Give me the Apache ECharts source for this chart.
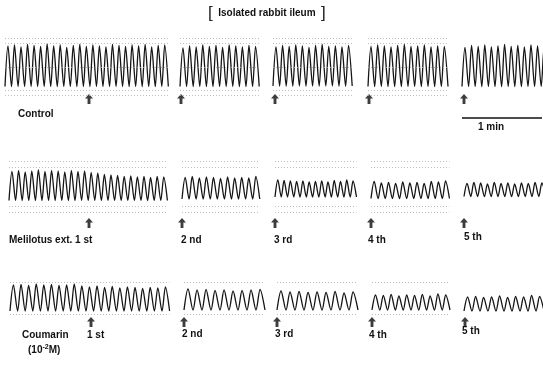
<!DOCTYPE html>
<html>
<head>
<meta charset="utf-8">
<script src="https://cdn.jsdelivr.net/npm/echarts@6/dist/echarts.min.js"></script>
<style>
  html, body { margin: 0; padding: 0; background: #fff; }
  #chart { width: 543px; height: 380px; }
</style>
</head>
<body>
<div id="chart"></div>
<script>
// Isolated rabbit ileum: spontaneous contractions, time in seconds, tension in arbitrary units.
const timeSpan = 407.25;          // seconds across the page
const scaleBarStart = 346.5;      // 1-min calibration bar
const scaleBarLength = 60;

// Control recordings (5 segments)
const controlStarts  = [3.75, 135, 204.75, 276, 346.5];
const controlPeriods = [4.9, 4.95, 4.95, 5.0, 4.95];
const controlBase    = [1.3, 1.3, 1.4, 1.3, 1.3];
const controlPeaks1 = [9.4, 9.6, 9.2, 9.7, 9.5, 9.3, 9.8, 9.4, 9.6, 9.1, 9.5, 9.7, 9.3, 9.6, 9.4, 9.2, 9.7, 9.5, 9.3, 9.6, 9.4, 9.7, 9.2, 9.5, 9.6];
const controlPeaks2 = [9.0, 9.4, 9.2, 9.6, 9.3, 9.5, 9.1, 9.6, 9.4, 9.2, 9.5, 9.3];
const controlPeaks3 = [9.2, 9.5, 9.3, 9.6, 9.4, 9.1, 9.5, 9.7, 9.3, 9.4, 9.2, 9.5];
const controlPeaks4 = [9.3, 9.6, 9.4, 9.2, 9.5, 9.7, 9.3, 9.4, 9.6, 9.2, 9.4, 9.3];
const controlPeaks5 = [9.1, 9.5, 9.3, 9.6, 9.2, 9.4, 9.7, 9.3, 9.5, 9.2, 9.6, 9.4, 9.3];
const controlArrows = [66.75, 135.75, 206.25, 276.75, 348];

// Melilotus extract, 1st to 5th application
const melilotusStarts  = [6.75, 136.5, 206.25, 278.25, 348];
const melilotusPeriods = [4.95, 5.3, 4.7, 5.35, 5.1];
const melilotusBase    = [3.5, 3.8, 4.2, 3.9, 4.3];
const melilotusPeaks1 = [9.3, 9.5, 9.2, 9.4, 9.6, 9.3, 9.5, 9.4, 9.2, 9.5, 9.3, 9.4, 9.1, 9.0, 8.7, 8.6, 8.5, 8.3, 8.4, 8.2, 8.3, 8.1, 8.3, 8.2];
const melilotusPeaks2 = [8.1, 8.3, 8.0, 8.2, 8.1, 7.9, 8.2, 8.0, 8.1, 8.0, 8.3];
const melilotusPeaks3 = [7.6, 7.5, 7.4, 7.3, 7.4, 7.2, 7.3, 7.4, 7.2, 7.5, 7.3, 7.6, 7.4];
const melilotusPeaks4 = [7.3, 7.0, 7.1, 6.9, 7.2, 7.0, 7.1, 6.9, 7.3, 7.2, 7.4];
const melilotusPeaks5 = [6.9, 7.1, 7.0, 6.8, 7.1, 6.9, 7.0, 6.8, 7.0, 6.9, 7.1, 7.0];
const melilotusArrows = [66.75, 136.5, 206.25, 278.25, 348];

// Coumarin (10^-2 M), 1st to 5th application
const coumarinStarts  = [7.5, 138, 207.75, 279, 348];
const coumarinPeriods = [5.7, 6.75, 6.75, 5.85, 6.0];
const coumarinBase    = [4.2, 4.4, 4.4, 4.4, 4.2];
const coumarinPeaks1 = [9.4, 9.5, 9.3, 9.6, 9.4, 9.5, 9.3, 9.4, 9.6, 9.2, 9.0, 9.2, 8.9, 9.1, 8.8, 9.0, 8.9, 8.7, 8.9, 8.8, 9.0];
const coumarinPeaks2 = [8.6, 8.4, 8.5, 8.3, 8.4, 8.2, 8.3, 8.4, 8.5];
const coumarinPeaks3 = [8.2, 8.0, 8.1, 7.9, 8.0, 7.9, 8.1, 7.8, 8.0];
const coumarinPeaks4 = [7.4, 7.3, 7.5, 7.2, 7.4, 7.3, 7.5, 7.2, 7.6, 7.4];
const coumarinPeaks5 = [7.0, 7.1, 6.9, 7.0, 7.2, 6.9, 7.1, 7.0, 7.3, 7.1];
const coumarinArrows = [68.25, 138, 207.75, 279, 348.75];

// Chart-paper ruling levels drawn faintly behind each trace
const controlPaper   = [11.0, 9.9, 5.2, 0.6, -0.4];
const melilotusPaper = [11.4, 10.2, 2.4, 1.2];
const coumarinPaper  = [10.0, 3.6];

const arrowLevel = [-1.2, -1, 2.0];

const rowData = [
  { starts: controlStarts, periods: controlPeriods, base: controlBase,
    peaks: [controlPeaks1, controlPeaks2, controlPeaks3, controlPeaks4, controlPeaks5],
    arrows: controlArrows, paper: controlPaper },
  { starts: melilotusStarts, periods: melilotusPeriods, base: melilotusBase,
    peaks: [melilotusPeaks1, melilotusPeaks2, melilotusPeaks3, melilotusPeaks4, melilotusPeaks5],
    arrows: melilotusArrows, paper: melilotusPaper },
  { starts: coumarinStarts, periods: coumarinPeriods, base: coumarinBase,
    peaks: [coumarinPeaks1, coumarinPeaks2, coumarinPeaks3, coumarinPeaks4, coumarinPeaks5],
    arrows: coumarinArrows, paper: coumarinPaper }
];

// Each contraction: resting level, then its peak, then back to rest.
function tracePoints(start, period, base, peaks) {
  const pts = [];
  peaks.forEach((p, i) => {
    pts.push([start + i * period, base]);
    pts.push([start + (i + 0.45) * period, p]);
  });
  pts.push([start + peaks.length * period, base]);
  return pts;
}

const gridTops = [33, 158, 272];
const grids = [], xAxes = [], yAxes = [], series = [];

rowData.forEach((row, r) => {
  grids.push({ left: 0, right: 0, top: gridTops[r], height: 90 });
  xAxes.push({ type: 'value', gridIndex: r, min: 0, max: timeSpan, show: false });
  yAxes.push({ type: 'value', gridIndex: r, min: -6, max: 12, show: false });

  row.peaks.forEach((peaks, s) => {
    const start = row.starts[s];
    const end = start + peaks.length * row.periods[s];
    series.push({
      type: 'line', xAxisIndex: r, yAxisIndex: r,
      data: tracePoints(start, row.periods[s], row.base[s], peaks),
      showSymbol: false, smooth: 0.3, clip: true, animation: false,
      lineStyle: { color: '#151515', width: 1.3 },
      markLine: {
        silent: true, symbol: 'none', animation: false,
        lineStyle: { color: '#adadad', type: [1, 2], width: 0.8 },
        label: { show: false },
        data: row.paper.map(v => [{ coord: [start, v] }, { coord: [end, v] }])
      }
    });
  });

  series.push({
    type: 'scatter', xAxisIndex: r, yAxisIndex: r,
    data: row.arrows.map(t => [t, arrowLevel[r]]),
    symbol: 'path://M5,0 L10,5.5 L6.8,5.5 L6.8,12 L3.2,12 L3.2,5.5 L0,5.5 Z',
    symbolSize: [8, 10], itemStyle: { color: '#0d0d0d' }, animation: false, silent: true
  });
});

// 1-min calibration bar under the control row
series.push({
  type: 'line', xAxisIndex: 0, yAxisIndex: 0,
  data: [[scaleBarStart, -5], [scaleBarStart + scaleBarLength, -5]],
  showSymbol: false, animation: false,
  lineStyle: { color: '#111', width: 1.4 }
});

const labelFont = { fontFamily: 'Liberation Sans, Arial, sans-serif', fontWeight: 'bold', fontSize: 10, fill: '#111' };
function label(text, x, y, extra) {
  return { type: 'text', left: x, top: y, style: Object.assign({ text: text }, labelFont, extra || {}) };
}

const graphics = [
  { type: 'text', left: 208, top: 5,
    style: { text: '{b|[}{t|  Isolated rabbit ileum  }{b|]}', x: 0, y: 0,
      rich: {
        b: { fontFamily: 'Liberation Sans, Arial, sans-serif', fontSize: 17, fill: '#222' },
        t: { fontFamily: 'Liberation Sans, Arial, sans-serif', fontWeight: 'bold', fontSize: 10, fill: '#111' }
      } } },
  label('Control', 18, 109),
  label('1 min', 478, 122),
  label('Melilotus ext. 1 st', 9, 235),
  label('2 nd', 181, 235), label('3 rd', 274, 235), label('4 th', 368, 235), label('5 th', 464, 232),
  label('Coumarin', 22, 330), label('1 st', 87, 330),
  { type: 'text', left: 28, top: 344,
    style: { text: '(10{s|-2}M)', fontFamily: 'Liberation Sans, Arial, sans-serif', fontWeight: 'bold', fontSize: 10, fill: '#111',
      rich: { s: { fontFamily: 'Liberation Sans, Arial, sans-serif', fontWeight: 'bold', fontSize: 7, fill: '#111', verticalAlign: 'top', padding: [0, 0, 6, 0] } } } },
  label('2 nd', 182, 329), label('3 rd', 275, 329), label('4 th', 369, 330), label('5 th', 462, 326)
];

const chart = echarts.init(document.getElementById('chart'), null, { renderer: 'canvas' });
chart.setOption({
  animation: false,
  backgroundColor: '#fff',
  grid: grids, xAxis: xAxes, yAxis: yAxes,
  series: series,
  graphic: graphics
});
</script>
</body>
</html>
